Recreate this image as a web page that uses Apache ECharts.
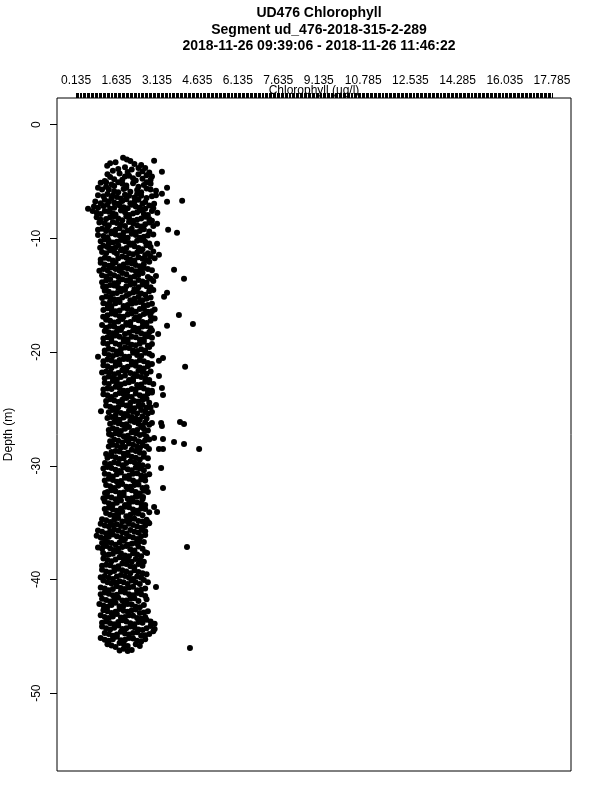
<!DOCTYPE html>
<html>
<head>
<meta charset="utf-8">
<script src="https://cdn.jsdelivr.net/npm/echarts@6/dist/echarts.min.js"></script>
<style>
html,body{margin:0;padding:0;background:#fff;}
#chart{width:600px;height:800px;}
</style>
</head>
<body>
<div id="chart"></div>
<script>
const titleLines = ["UD476 Chlorophyll", "Segment ud_476-2018-315-2-289", "2018-11-26 09:39:06 - 2018-11-26 11:46:22"];
const xAxisName = "Chlorophyll (ug/l)";
const yAxisName = "Depth (m)";
const xTickLabels = [0.135, 1.635, 3.135, 4.635, 6.135, 7.635, 9.135, 10.785, 12.535, 14.285, 16.035, 17.785];
const yTickLabels = [0, -10, -20, -30, -40, -50];
const xTickStep = 0.05;

// [chlorophyll (ug/l), depth (m)], by depth band
const band0to5 = [
[1.88,-2.90],[2.02,-3.05],[1.60,-3.30],[3.03,-3.17],[1.29,-3.61],[2.30,-3.45],[2.55,-3.55],[1.95,-3.75],[2.70,-3.80],[2.20,-3.95],[1.50,-4.05],[3.32,-4.14],[2.85,-4.20],[1.75,-4.30],[2.45,-4.35],[2.10,-4.50],[1.40,-4.60],[2.95,-4.55],[2.60,-4.75],[1.85,-4.85],[2.35,-4.90],[1.20,-4.95],
[1.40,-3.40],[2.15,-3.20],[2.45,-3.80],[1.70,-3.90],[2.05,-4.15],[2.60,-4.10],[1.30,-4.35],[1.95,-4.55],[2.25,-4.70],[2.75,-4.45],[1.55,-4.80],[2.90,-4.85]
];
const band5to10 = [
[1.05,-5.10],[1.45,-5.25],[1.70,-5.05],[2.00,-5.35],[2.25,-5.15],[2.65,-5.30],[2.90,-5.20],[3.51,-5.55],[1.25,-5.45],
[1.10,-5.70],[1.55,-5.85],[1.90,-5.65],[2.15,-5.90],[2.40,-5.75],[2.75,-5.60],[3.10,-5.80],[3.32,-6.07],
[0.95,-6.20],[1.30,-6.10],[1.65,-6.35],[1.95,-6.15],[2.30,-6.40],[2.55,-6.25],[2.95,-6.30],[1.45,-6.45],
[4.07,-6.69],[3.51,-6.78],[3.03,-6.95],[0.85,-6.75],[1.20,-6.60],[1.55,-6.85],[1.85,-6.70],[2.15,-6.90],[2.45,-6.60],[2.70,-6.80],
[0.95,-7.31],[0.58,-7.39],[1.15,-7.15],[1.40,-7.40],[1.75,-7.10],[2.05,-7.35],[2.35,-7.20],[2.60,-7.45],[2.85,-7.10],
[0.75,-7.60],[1.05,-7.85],[1.35,-7.65],[1.60,-7.90],[1.95,-7.70],[2.25,-7.80],[2.50,-7.55],[2.80,-7.95],[3.15,-7.75],
[0.90,-8.15],[1.25,-8.30],[1.55,-8.05],[1.85,-8.40],[2.10,-8.20],[2.40,-8.35],[2.70,-8.10],[2.95,-8.45],
[3.14,-8.71],[1.00,-8.60],[1.35,-8.85],[1.65,-8.65],[1.95,-8.90],[2.25,-8.70],[2.55,-8.95],[2.85,-8.60],
[3.55,-9.24],[3.88,-9.51],[1.10,-9.15],[1.45,-9.40],[1.75,-9.10],[2.05,-9.30],[2.35,-9.45],[2.65,-9.20],[1.25,-9.35],
[0.95,-9.70],[1.30,-9.90],[1.60,-9.65],[1.90,-9.85],[2.20,-9.60],[2.50,-9.95],[2.80,-9.75],[1.45,-9.55],
[1.25,-5.05],[1.55,-5.40],[1.85,-5.20],[2.45,-5.45],[2.75,-5.05],
[0.95,-5.55],[1.35,-5.70],[1.70,-5.95],[2.00,-5.55],[2.55,-5.95],[2.90,-5.70],
[1.15,-6.30],[1.50,-6.20],[1.80,-6.50],[2.10,-6.25],[2.40,-6.10],[2.75,-6.45],[3.10,-6.20],
[1.05,-6.90],[1.35,-6.75],[1.70,-6.95],[2.00,-6.55],[2.30,-6.80],[2.60,-6.95],
[0.80,-7.20],[1.30,-7.05],[1.55,-7.30],[1.90,-7.25],[2.20,-7.05],[2.50,-7.30],[2.70,-7.40],[3.00,-7.35],
[0.90,-7.75],[1.20,-7.60],[1.50,-7.80],[1.80,-7.55],[2.10,-7.95],[2.40,-7.70],[2.65,-7.85],[2.95,-7.60],
[1.05,-8.35],[1.40,-8.15],[1.70,-8.25],[2.00,-8.05],[2.25,-8.45],[2.55,-8.25],[2.85,-8.30],
[1.20,-8.70],[1.50,-8.55],[1.80,-8.80],[2.10,-8.55],[2.40,-8.85],[2.70,-8.75],[3.00,-8.90],
[0.95,-9.25],[1.30,-9.05],[1.60,-9.25],[1.90,-9.45],[2.20,-9.15],[2.50,-9.35],[2.85,-9.40],
[1.15,-9.80],[1.75,-9.75],[2.05,-9.95],[2.35,-9.70],[2.65,-9.85],[3.00,-9.65]
];
const band10to15 = [
[3.14,-10.48],[3.21,-11.44],[3.77,-12.76],[4.14,-13.56],[3.51,-14.79],[1.03,-10.83],[1.14,-14.26],
[1.20,-10.10],[1.50,-10.35],[1.80,-10.15],[2.10,-10.40],[2.40,-10.20],[2.70,-10.30],[1.35,-10.45],
[1.15,-10.65],[1.45,-10.90],[1.70,-10.60],[2.00,-10.85],[2.30,-10.70],[2.60,-10.95],[2.90,-10.75],
[1.10,-11.20],[1.40,-11.05],[1.65,-11.35],[1.95,-11.15],[2.25,-11.40],[2.55,-11.10],[2.80,-11.30],
[1.20,-11.70],[1.50,-11.95],[1.85,-11.60],[2.15,-11.85],[2.45,-11.65],[2.75,-11.90],[3.05,-11.75],
[1.05,-12.15],[1.35,-12.40],[1.60,-12.10],[1.90,-12.30],[2.20,-12.20],[2.50,-12.45],[2.85,-12.05],
[1.15,-12.70],[1.45,-12.55],[1.75,-12.85],[2.05,-12.65],[2.35,-12.90],[2.65,-12.60],[2.95,-12.80],
[1.10,-13.25],[1.40,-13.10],[1.70,-13.40],[2.00,-13.15],[2.30,-13.35],[2.60,-13.05],[3.10,-13.30],
[1.25,-13.70],[1.55,-13.95],[1.85,-13.60],[2.15,-13.80],[2.45,-13.65],[2.75,-13.90],[3.00,-13.75],
[1.40,-14.10],[1.70,-14.35],[2.00,-14.20],[2.30,-14.45],[2.60,-14.05],[2.90,-14.30],
[1.20,-14.60],[1.50,-14.85],[1.80,-14.65],[2.10,-14.90],[2.40,-14.70],[2.70,-14.95],[3.00,-14.55],
[1.05,-10.25],[1.35,-10.20],[1.65,-10.30],[1.95,-10.25],[2.25,-10.45],[2.55,-10.15],[2.85,-10.45],
[1.30,-10.75],[1.60,-10.80],[1.85,-10.95],[2.15,-10.55],[2.45,-10.85],[2.75,-10.60],
[1.25,-11.30],[1.55,-11.20],[1.80,-11.05],[2.10,-11.30],[2.40,-11.25],[2.70,-11.45],[3.00,-11.15],
[1.05,-11.85],[1.35,-11.80],[1.70,-11.75],[2.00,-11.70],[2.30,-11.95],[2.60,-11.80],[2.90,-11.60],
[1.20,-12.30],[1.50,-12.25],[1.75,-12.45],[2.05,-12.15],[2.35,-12.35],[2.65,-12.25],
[1.00,-12.85],[1.30,-12.80],[1.60,-12.70],[1.90,-12.55],[2.20,-12.75],[2.50,-12.85],[2.80,-12.70],
[1.25,-13.35],[1.55,-13.25],[1.85,-13.05],[2.15,-13.45],[2.45,-13.20],[2.80,-13.40],
[1.10,-13.85],[1.40,-13.60],[1.70,-13.85],[2.00,-13.70],[2.30,-13.95],[2.60,-13.80],[2.90,-13.55],
[1.25,-14.25],[1.55,-14.15],[1.85,-14.45],[2.15,-14.05],[2.45,-14.30],[2.75,-14.20],
[1.35,-14.70],[1.65,-14.80],[1.95,-14.55],[2.25,-14.75],[2.55,-14.85],[2.85,-14.65]
];
const band15to20 = [
[3.40,-15.14],[3.95,-16.73],[4.47,-17.52],[3.51,-17.69],[3.18,-18.40],[1.10,-17.61],[1.14,-16.90],
[1.25,-15.10],[1.55,-15.35],[1.85,-15.20],[2.15,-15.45],[2.45,-15.15],[2.75,-15.30],[1.40,-15.50],
[1.15,-15.70],[1.45,-15.95],[1.75,-15.60],[2.05,-15.85],[2.35,-15.65],[2.65,-15.90],[2.95,-15.75],
[1.30,-16.15],[1.60,-16.40],[1.90,-16.10],[2.20,-16.30],[2.50,-16.20],[2.80,-16.45],[3.05,-16.25],
[1.45,-16.60],[1.75,-16.85],[2.05,-16.70],[2.35,-16.95],[2.65,-16.65],[2.90,-16.80],
[1.25,-17.15],[1.55,-17.40],[1.85,-17.10],[2.15,-17.35],[2.45,-17.20],[2.75,-17.45],[3.05,-17.05],
[1.40,-17.70],[1.70,-17.95],[2.00,-17.60],[2.30,-17.85],[2.60,-17.75],[2.90,-17.90],
[1.20,-18.15],[1.50,-18.35],[1.80,-18.05],[2.10,-18.30],[2.40,-18.20],[2.70,-18.45],[2.95,-18.10],
[1.30,-18.70],[1.60,-18.55],[1.90,-18.85],[2.20,-18.65],[2.50,-18.90],[2.80,-18.60],
[1.15,-19.20],[1.45,-19.05],[1.75,-19.35],[2.05,-19.15],[2.35,-19.40],[2.65,-19.10],[2.95,-19.30],
[1.35,-19.70],[1.65,-19.95],[1.95,-19.60],[2.25,-19.85],[2.55,-19.75],[2.85,-19.55],
[1.10,-15.25],[1.40,-15.15],[1.70,-15.40],[2.00,-15.05],[2.30,-15.30],[2.60,-15.45],[2.90,-15.20],
[1.30,-15.80],[1.60,-15.70],[1.90,-15.95],[2.20,-15.75],[2.50,-15.60],[2.80,-15.85],
[1.15,-16.30],[1.45,-16.25],[1.75,-16.35],[2.05,-16.20],[2.35,-16.45],[2.65,-16.15],[2.95,-16.40],
[1.30,-16.75],[1.60,-16.70],[1.90,-16.90],[2.20,-16.60],[2.50,-16.85],[2.75,-16.55],
[1.40,-17.25],[1.70,-17.30],[2.00,-17.45],[2.30,-17.10],[2.60,-17.35],[2.90,-17.25],
[1.25,-17.85],[1.55,-17.75],[1.85,-17.80],[2.15,-17.65],[2.45,-17.95],[2.75,-17.70],
[1.35,-18.25],[1.65,-18.20],[1.95,-18.40],[2.25,-18.10],[2.55,-18.35],[2.85,-18.25],
[1.15,-18.80],[1.45,-18.75],[1.75,-18.65],[2.05,-18.90],[2.35,-18.70],[2.65,-18.85],[2.95,-18.75],
[1.30,-19.30],[1.60,-19.25],[1.90,-19.10],[2.20,-19.35],[2.50,-19.25],[2.80,-19.45],
[1.20,-19.85],[1.50,-19.80],[1.80,-19.75],[2.10,-19.65],[2.40,-19.90],[2.70,-19.85]
];
const band20to25 = [
[0.95,-20.42],[3.36,-20.51],[3.21,-20.77],[4.18,-21.30],[3.21,-22.10],[3.32,-23.15],[3.36,-23.77],[3.10,-24.65],
[1.20,-20.10],[1.50,-20.35],[1.80,-20.15],[2.10,-20.40],[2.40,-20.25],[2.70,-20.05],[2.95,-20.30],
[1.30,-20.65],[1.60,-20.90],[1.90,-20.60],[2.20,-20.85],[2.50,-20.70],[2.80,-20.95],
[1.15,-21.15],[1.45,-21.40],[1.75,-21.10],[2.05,-21.30],[2.35,-21.20],[2.65,-21.45],[2.95,-21.05],
[1.25,-21.70],[1.55,-21.95],[1.85,-21.60],[2.15,-21.85],[2.45,-21.65],[2.75,-21.90],
[1.35,-22.15],[1.65,-22.40],[1.95,-22.05],[2.25,-22.30],[2.55,-22.20],[2.85,-22.45],
[1.20,-22.70],[1.50,-22.55],[1.80,-22.85],[2.10,-22.65],[2.40,-22.90],[2.70,-22.60],[3.00,-22.80],
[1.30,-23.20],[1.60,-23.05],[1.90,-23.40],[2.20,-23.25],[2.50,-23.10],[2.80,-23.35],
[1.15,-23.70],[1.45,-23.95],[1.75,-23.60],[2.05,-23.85],[2.35,-23.65],[2.65,-23.90],[2.95,-23.55],
[1.40,-24.15],[1.70,-24.40],[2.00,-24.05],[2.30,-24.30],[2.60,-24.20],[2.85,-24.45],
[1.25,-24.70],[1.55,-24.95],[1.85,-24.60],[2.15,-24.85],[2.45,-24.75],[2.75,-24.90],
[1.35,-20.25],[1.65,-20.20],[1.95,-20.40],[2.25,-20.05],[2.55,-20.35],[2.85,-20.15],
[1.15,-20.80],[1.45,-20.75],[1.75,-20.70],[2.05,-20.60],[2.35,-20.90],[2.65,-20.80],
[1.30,-21.25],[1.60,-21.20],[1.90,-21.40],[2.20,-21.10],[2.50,-21.35],[2.80,-21.25],
[1.10,-21.80],[1.40,-21.75],[1.70,-21.85],[2.00,-21.65],[2.30,-21.95],[2.60,-21.75],[2.90,-21.70],
[1.20,-22.30],[1.50,-22.25],[1.80,-22.20],[2.10,-22.45],[2.40,-22.10],[2.70,-22.30],
[1.35,-22.80],[1.65,-22.70],[1.95,-22.75],[2.25,-22.55],[2.55,-22.85],[2.85,-22.65],
[1.15,-23.30],[1.45,-23.25],[1.75,-23.15],[2.05,-23.40],[2.35,-23.30],[2.65,-23.20],[2.95,-23.40],
[1.30,-23.80],[1.60,-23.75],[1.90,-23.70],[2.20,-23.95],[2.50,-23.80],[2.80,-23.65],
[1.25,-24.30],[1.55,-24.25],[1.85,-24.20],[2.15,-24.45],[2.45,-24.35],[2.75,-24.10],
[1.40,-24.80],[1.70,-24.85],[2.00,-24.70],[2.30,-24.95],[2.60,-24.65],[2.90,-24.85]
];
const band25to30 = [
[2.95,-25.26],[1.06,-25.20],[3.99,-26.14],[4.14,-26.32],[3.29,-26.23],[3.32,-26.50],[2.95,-26.23],[1.36,-27.20],
[3.77,-27.90],[3.36,-27.64],[3.03,-27.55],[4.14,-28.08],[4.70,-28.52],[3.21,-28.52],[3.36,-28.52],[2.84,-28.52],[1.25,-28.96],[1.21,-29.75],
[1.50,-25.10],[1.80,-25.35],[2.10,-25.15],[2.40,-25.40],[2.70,-25.25],
[1.45,-25.70],[1.75,-25.95],[2.05,-25.60],[2.35,-25.85],[2.60,-25.65],[1.60,-25.55],
[1.55,-26.15],[1.85,-26.40],[2.15,-26.05],[2.45,-26.30],[2.70,-26.20],
[1.50,-26.70],[1.80,-26.95],[2.10,-26.60],[2.40,-26.85],[2.65,-26.75],
[1.60,-27.15],[1.90,-27.40],[2.20,-27.05],[2.50,-27.30],[2.75,-27.45],
[1.55,-27.70],[1.85,-27.95],[2.15,-27.60],[2.45,-27.85],[2.70,-27.75],
[1.50,-28.15],[1.80,-28.40],[2.10,-28.05],[2.40,-28.30],[2.60,-28.20],
[1.60,-28.70],[1.90,-28.95],[2.20,-28.60],[2.50,-28.85],
[1.45,-29.15],[1.75,-29.40],[2.05,-29.05],[2.35,-29.30],[2.65,-29.20],
[1.55,-29.70],[1.85,-29.95],[2.15,-29.60],[2.45,-29.85],
[1.35,-25.30],[1.65,-25.20],[1.95,-25.45],[2.25,-25.25],[2.55,-25.10],[2.80,-25.40],
[1.30,-25.80],[1.60,-25.85],[1.90,-25.75],[2.20,-25.70],[2.50,-25.95],[2.75,-25.85],
[1.40,-26.30],[1.70,-26.25],[2.00,-26.35],[2.30,-26.15],[2.60,-26.45],[2.85,-26.40],
[1.35,-26.85],[1.65,-26.80],[1.95,-26.75],[2.25,-26.95],[2.55,-26.60],[2.80,-26.90],
[1.45,-27.30],[1.75,-27.25],[2.05,-27.35],[2.35,-27.15],[2.65,-27.20],
[1.40,-27.85],[1.70,-27.80],[2.00,-27.75],[2.30,-27.65],[2.60,-27.95],[2.85,-27.70],
[1.35,-28.30],[1.65,-28.25],[1.95,-28.35],[2.25,-28.15],[2.50,-28.45],[2.75,-28.30],
[1.45,-28.80],[1.75,-28.75],[2.05,-28.85],[2.35,-28.70],[2.65,-28.90],
[1.30,-29.30],[1.60,-29.25],[1.90,-29.35],[2.20,-29.20],[2.50,-29.45],[2.80,-29.35],
[1.40,-29.85],[1.70,-29.80],[2.00,-29.75],[2.30,-29.70],[2.60,-29.95]
];
const band30to35 = [
[3.29,-30.19],[3.36,-31.95],[1.21,-32.39],[2.62,-32.75],[3.03,-33.63],[3.14,-34.07],[2.80,-34.95],
[1.30,-30.10],[1.60,-30.35],[1.90,-30.15],[2.20,-30.40],[2.50,-30.25],[2.80,-30.05],
[1.20,-30.70],[1.50,-30.95],[1.80,-30.60],[2.10,-30.85],[2.40,-30.65],[2.70,-30.90],
[1.35,-31.15],[1.65,-31.40],[1.95,-31.05],[2.25,-31.30],[2.55,-31.20],
[1.25,-31.70],[1.55,-31.95],[1.85,-31.60],[2.15,-31.85],[2.45,-31.65],[2.75,-31.90],
[1.45,-32.15],[1.75,-32.40],[2.05,-32.05],[2.35,-32.30],[2.65,-32.20],
[1.30,-32.70],[1.60,-32.95],[1.90,-32.60],[2.20,-32.85],[2.45,-32.65],
[1.20,-33.15],[1.50,-33.40],[1.80,-33.05],[2.10,-33.30],[2.40,-33.20],[2.70,-33.45],
[1.35,-33.70],[1.65,-33.95],[1.95,-33.60],[2.25,-33.85],[2.55,-33.75],
[1.25,-34.15],[1.55,-34.40],[1.85,-34.05],[2.15,-34.30],[2.45,-34.20],[2.85,-34.10],
[1.10,-34.70],[1.40,-34.95],[1.70,-34.60],[2.00,-34.85],[2.30,-34.65],[2.60,-34.90],
[1.15,-30.25],[1.45,-30.20],[1.75,-30.45],[2.05,-30.30],[2.35,-30.15],[2.65,-30.40],
[1.35,-30.80],[1.65,-30.75],[1.95,-30.95],[2.25,-30.70],[2.55,-30.85],[2.85,-30.75],
[1.20,-31.30],[1.50,-31.25],[1.80,-31.35],[2.10,-31.15],[2.40,-31.45],[2.70,-31.30],
[1.40,-31.80],[1.70,-31.75],[2.00,-31.85],[2.30,-31.70],[2.60,-31.95],
[1.30,-32.30],[1.60,-32.25],[1.90,-32.35],[2.20,-32.15],[2.50,-32.45],[2.80,-32.30],
[1.15,-32.85],[1.45,-32.80],[1.75,-32.75],[2.05,-32.90],[2.35,-32.70],[2.60,-32.95],
[1.35,-33.30],[1.65,-33.25],[1.95,-33.45],[2.25,-33.15],[2.55,-33.35],
[1.20,-33.80],[1.50,-33.85],[1.80,-33.75],[2.10,-33.65],[2.40,-33.95],[2.70,-33.80],
[1.40,-34.30],[1.70,-34.25],[2.00,-34.45],[2.30,-34.15],[2.60,-34.35],
[1.25,-34.80],[1.55,-34.75],[1.85,-34.90],[2.15,-34.70],[2.45,-34.85],[2.75,-34.75]
];
const band35to40 = [
[1.10,-36.80],[1.14,-37.68],[2.77,-37.68],[4.25,-37.15],
[1.05,-35.10],[1.35,-35.35],[1.65,-35.15],[1.95,-35.40],[2.25,-35.20],[2.55,-35.45],[2.85,-35.05],
[0.95,-35.70],[1.25,-35.95],[1.55,-35.60],[1.85,-35.85],[2.15,-35.65],[2.45,-35.90],[2.70,-35.75],
[0.90,-36.15],[1.20,-36.40],[1.50,-36.05],[1.80,-36.30],[2.10,-36.20],[2.40,-36.45],[2.70,-36.10],
[1.30,-36.70],[1.60,-36.95],[1.90,-36.60],[2.20,-36.85],[2.50,-36.65],
[0.95,-37.20],[1.25,-37.05],[1.55,-37.40],[1.85,-37.15],[2.15,-37.35],[2.45,-37.10],
[1.35,-37.80],[1.65,-37.55],[1.95,-37.90],[2.25,-37.70],[2.55,-37.95],
[1.15,-38.15],[1.45,-38.40],[1.75,-38.05],[2.05,-38.30],[2.35,-38.20],[2.65,-38.45],
[1.25,-38.70],[1.55,-38.95],[1.85,-38.60],[2.15,-38.85],[2.45,-38.65],
[1.10,-39.15],[1.40,-39.40],[1.70,-39.05],[2.00,-39.30],[2.30,-39.20],[2.60,-39.45],
[1.20,-39.70],[1.50,-39.95],[1.80,-39.60],[2.10,-39.85],[2.40,-39.75],[2.75,-39.55],
[1.20,-35.25],[1.50,-35.20],[1.80,-35.30],[2.10,-35.10],[2.40,-35.35],[2.70,-35.25],
[1.10,-35.80],[1.40,-35.75],[1.70,-35.70],[2.00,-35.95],[2.30,-35.80],[2.60,-35.65],
[1.05,-36.30],[1.35,-36.25],[1.65,-36.20],[1.95,-36.45],[2.25,-36.30],[2.55,-36.20],
[1.15,-36.85],[1.45,-36.80],[1.75,-36.75],[2.05,-36.95],[2.35,-36.80],[2.65,-36.70],
[1.10,-37.30],[1.40,-37.25],[1.70,-37.30],[2.00,-37.05],[2.30,-37.45],[2.60,-37.30],
[1.20,-37.85],[1.50,-37.75],[1.80,-37.70],[2.10,-37.95],[2.40,-37.80],[2.70,-37.60],
[1.30,-38.30],[1.60,-38.25],[1.90,-38.20],[2.20,-38.45],[2.50,-38.30],
[1.10,-38.80],[1.40,-38.75],[1.70,-38.85],[2.00,-38.65],[2.30,-38.90],[2.60,-38.80],
[1.25,-39.30],[1.55,-39.25],[1.85,-39.20],[2.15,-39.45],[2.45,-39.35],
[1.05,-39.80],[1.35,-39.85],[1.65,-39.75],[1.95,-39.70],[2.25,-39.95],[2.55,-39.85]
];
const band40to47 = [
[3.10,-40.67],[4.36,-46.04],
[1.15,-40.10],[1.45,-40.35],[1.75,-40.15],[2.05,-40.40],[2.35,-40.25],[2.65,-40.05],
[1.05,-40.70],[1.35,-40.95],[1.65,-40.60],[1.95,-40.85],[2.25,-40.65],[2.55,-40.90],
[1.20,-41.15],[1.50,-41.40],[1.80,-41.05],[2.10,-41.30],[2.40,-41.20],[2.70,-41.45],
[1.10,-41.70],[1.40,-41.95],[1.70,-41.60],[2.00,-41.85],[2.30,-41.65],
[1.00,-42.15],[1.30,-42.40],[1.60,-42.05],[1.90,-42.30],[2.20,-42.20],[2.50,-42.45],
[1.15,-42.70],[1.45,-42.95],[1.75,-42.60],[2.05,-42.85],[2.35,-42.65],[2.65,-42.90],
[1.05,-43.15],[1.35,-43.40],[1.65,-43.05],[1.95,-43.30],[2.25,-43.20],[2.55,-43.45],
[1.25,-43.70],[1.55,-43.95],[1.85,-43.60],[2.15,-43.85],[2.45,-43.75],[2.75,-43.55],[3.05,-43.90],
[1.10,-44.15],[1.40,-44.40],[1.70,-44.05],[2.00,-44.30],[2.30,-44.20],[2.60,-44.45],[2.90,-44.10],
[1.20,-44.70],[1.50,-44.95],[1.80,-44.60],[2.10,-44.85],[2.40,-44.65],[2.70,-44.90],[3.00,-44.55],
[1.05,-45.15],[1.35,-45.40],[1.65,-45.05],[1.95,-45.30],[2.25,-45.20],[2.55,-45.45],
[1.30,-45.70],[1.60,-45.95],[1.90,-45.65],[2.20,-46.20],[2.50,-45.85],[1.75,-46.25],
[1.30,-40.25],[1.60,-40.30],[1.90,-40.25],[2.20,-40.10],[2.50,-40.40],[2.80,-40.25],
[1.20,-40.80],[1.50,-40.85],[1.80,-40.75],[2.10,-40.70],[2.40,-40.95],[2.70,-40.80],
[1.05,-41.30],[1.35,-41.25],[1.65,-41.35],[1.95,-41.15],[2.25,-41.40],[2.55,-41.30],
[1.25,-41.80],[1.55,-41.75],[1.85,-41.85],[2.15,-41.70],[2.45,-41.90],[2.75,-41.75],
[1.15,-42.30],[1.45,-42.25],[1.75,-42.35],[2.05,-42.15],[2.35,-42.40],[2.65,-42.25],
[1.30,-42.80],[1.60,-42.85],[1.90,-42.75],[2.20,-42.70],[2.50,-42.95],[2.80,-42.80],
[1.20,-43.30],[1.50,-43.25],[1.80,-43.35],[2.10,-43.15],[2.40,-43.40],[2.70,-43.30],
[1.10,-43.80],[1.40,-43.85],[1.70,-43.75],[2.00,-43.70],[2.30,-43.95],[2.60,-43.80],[2.90,-43.70],
[1.25,-44.30],[1.55,-44.25],[1.85,-44.35],[2.15,-44.15],[2.45,-44.40],[2.75,-44.30],[3.05,-44.35],
[1.35,-44.80],[1.65,-44.85],[1.95,-44.75],[2.25,-44.70],[2.55,-44.95],[2.85,-44.80],
[1.20,-45.30],[1.50,-45.25],[1.80,-45.35],[2.10,-45.15],[2.40,-45.40],[2.70,-45.25],
[1.45,-45.80],[1.75,-45.60],[2.05,-45.85],[2.35,-45.70],[1.90,-46.10],[2.05,-46.30]
];

const allPoints = [].concat(band0to5, band5to10, band10to15, band15to20, band20to25, band25to30, band30to35, band35to40, band40to47);

// minor tick positions along the top axis
const xTicks = [];
const nTicks = Math.round((xTickLabels[xTickLabels.length - 1] - xTickLabels[0]) / xTickStep);
for (let i = 0; i <= nTicks; i++) xTicks.push(+(xTickLabels[0] + i * xTickStep).toFixed(3));

const font = '"Liberation Sans", Arial, Helvetica, sans-serif';
const chart = echarts.init(document.getElementById('chart'), null, {renderer: 'canvas'});
chart.setOption({
  animation: false,
  backgroundColor: '#fff',
  title: {
    text: titleLines.join('\n'),
    left: 314,
    top: 0,
    textAlign: 'center',
    textStyle: {fontFamily: font, fontSize: 14, fontWeight: 'bold', color: '#000', lineHeight: 16.5}
  },
  grid: {
    left: 57, right: 29, top: 98, bottom: 29,
    outerBoundsMode: 'none',
    containLabel: false,
    show: true, borderColor: '#000', borderWidth: 1, backgroundColor: '#fff'
  },
  xAxis: {
    type: 'value',
    position: 'top',
    min: -0.571,
    max: 18.491,
    name: xAxisName,
    nameLocation: 'middle',
    nameGap: 1,
    nameMoveOverlap: false,
    nameTextStyle: {fontFamily: font, fontSize: 12, color: '#000'},
    axisLine: {show: false, onZero: false},
    splitLine: {show: false},
    axisTick: {show: true, customValues: xTicks, length: 5, lineStyle: {color: '#000', width: 1}},
    axisLabel: {
      customValues: xTickLabels,
      formatter: v => v.toFixed(3),
      margin: 11,
      fontFamily: font, fontSize: 12, color: '#000'
    }
  },
  yAxis: {
    type: 'value',
    position: 'left',
    min: -56.85,
    max: 2.35,
    name: yAxisName,
    nameLocation: 'middle',
    nameRotate: 90,
    nameGap: 42,
    nameMoveOverlap: false,
    nameTextStyle: {fontFamily: font, fontSize: 12, color: '#000'},
    axisLine: {show: false, onZero: false},
    splitLine: {show: false},
    axisTick: {show: true, customValues: yTickLabels, length: 7, lineStyle: {color: '#000', width: 1}},
    axisLabel: {
      customValues: yTickLabels,
      rotate: 90,
      margin: 14,
      fontFamily: font, fontSize: 12, color: '#000'
    }
  },
  series: [{
    type: 'scatter',
    data: allPoints,
    symbol: 'circle',
    symbolSize: 6,
    itemStyle: {color: '#000', opacity: 1},
    silent: true
  }]
});
</script>
</body>
</html>
